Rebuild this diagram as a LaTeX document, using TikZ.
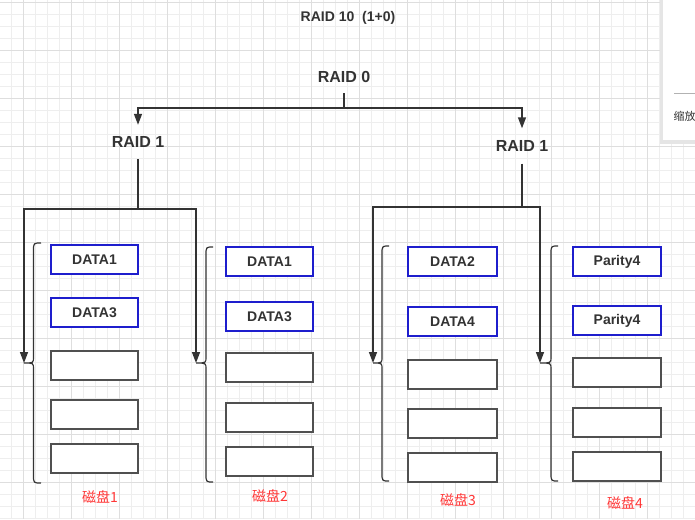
\documentclass[tikz,border=0pt]{standalone}
\usepackage{fontspec}
\setmainfont{Liberation Sans}
\newfontfamily\cjkfont{Noto Sans CJK SC}
\usetikzlibrary{arrows.meta}
\definecolor{ink}{RGB}{51,51,51}
\definecolor{boxblue}{RGB}{30,30,205}
\definecolor{boxgray}{RGB}{80,80,80}
\definecolor{diskred}{RGB}{255,55,55}
\definecolor{gridminor}{RGB}{238,238,238}
\definecolor{gridmajor}{RGB}{222,222,222}
\tikzset{
  lbl/.style={font=\fontsize{16}{18}\selectfont\bfseries, text=ink, inner sep=0pt},
  datab/.style={draw=boxblue, line width=1.5pt, fill=white, minimum width=87, minimum height=29, inner sep=0pt,
                font=\fontsize{14}{16}\selectfont\bfseries, text=ink},
  emptyb/.style={draw=boxgray, line width=1.5pt, fill=white, minimum width=87, minimum height=29, inner sep=0pt},
  disk/.style={font=\cjkfont\fontsize{14}{16}\selectfont, text=diskred, inner sep=0pt},
  conn/.style={draw=ink, line width=1.4pt},
  arr/.style={conn, -{Triangle[length=11pt,width=8pt]}},
  brace/.style={draw=ink, line width=1.2pt}
}
\begin{document}
\begin{tikzpicture}[x=1pt,y=-1pt]
\useasboundingbox (0,0) rectangle (695,519);
\fill[white] (0,0) rectangle (695,519);
% grid
\foreach \i in {0,...,57} \draw[gridminor, line width=0.8pt] (11.5+12*\i,0) -- (11.5+12*\i,519);
\foreach \i in {0,...,43} \draw[gridminor, line width=0.8pt] (0,2+12*\i) -- (695,2+12*\i);
\foreach \i in {0,...,14} \draw[gridmajor, line width=0.8pt] (23.5+48*\i,0) -- (23.5+48*\i,519);
\foreach \i in {0,...,10} \draw[gridmajor, line width=0.8pt] (0,2+48*\i) -- (695,2+48*\i);

% side panel
\fill[black!22] (660.5,-2) rectangle (700,142.5);
\fill[black!10] (659.5,-2) rectangle (700,143.5);
\fill[white] (663,-2) rectangle (700,140);
\draw[black!30, line width=0.8pt] (674,93) -- (700,93);
\node[anchor=west, inner sep=0pt, font=\cjkfont\fontsize{11}{13}\selectfont, text=ink] (zoomlbl) at (673.5,116) {缩放};

% title and RAID labels
\node[font=\fontsize{14}{16}\selectfont\bfseries, text=ink, inner sep=0pt] (title) at (348,17.5) {RAID 10\ \ (1+0)};
\node[lbl, minimum height=32] (r0) at (344,77) {RAID 0};
\node[lbl, minimum height=34] (r1l) at (138,142) {RAID 1};
\node[lbl, minimum height=35] (r1r) at (522,146) {RAID 1};

\coordinate (j0) at (344,108);
\draw[conn] (r0.south) -- (j0);
\draw[arr] (j0) -| (r1l.north);
\draw[arr] (j0) -| (r1r.north);

% braces
\newcommand{\mybrace}[6]{% spine, end, top, bottom, cusp x, name
  \coordinate (#6) at (#5,363);
  \draw[brace] (#2,#3) .. controls (#1,#3) .. (#1,#3+8) -- (#1,357) .. controls (#1,363) .. (#6)
     .. controls (#1,363) .. (#1,369) -- (#1,#4-8) .. controls (#1,#4) .. (#2,#4);
}
\mybrace{33.5}{41}{243}{483}{24}{c1}
\mybrace{206}{213}{247}{482}{196}{c2}
\mybrace{382}{389}{246}{481}{373}{c3}
\mybrace{551}{558}{246}{481}{540}{c4}

% connectors to disks
\coordinate (jl) at (138,209);
\coordinate (jr) at (522,207);
\draw[conn] (r1l.south) -- (jl);
\draw[arr] (jl) -| (c1);
\draw[arr] (jl) -| (c2);
\draw[conn] (r1r.south) -- (jr);
\draw[arr] (jr) -| (c3);
\draw[arr] (jr) -| (c4);

% disk 1
\node[datab] (a1) at (94.5,259.5) {DATA1};
\node[datab] (a2) at (94.5,312.5) {DATA3};
\node[emptyb] (a3) at (94.5,365.5) {};
\node[emptyb] (a4) at (94.5,414.5) {};
\node[emptyb] (a5) at (94.5,458.5) {};
\node[disk] (k1) at (100,497) {磁盘1};
% disk 2
\node[datab] (b1) at (269.5,261.5) {DATA1};
\node[datab] (b2) at (269.5,316.5) {DATA3};
\node[emptyb] (b3) at (269.5,367.5) {};
\node[emptyb] (b4) at (269.5,417.5) {};
\node[emptyb] (b5) at (269.5,461.5) {};
\node[disk] (k2) at (270,496) {磁盘2};
% disk 3
\node[datab, minimum width=89] (e1) at (452.5,261.5) {DATA2};
\node[datab, minimum width=89] (e2) at (452.5,321.5) {DATA4};
\node[emptyb, minimum width=89] (e3) at (452.5,374.5) {};
\node[emptyb, minimum width=89] (e4) at (452.5,423.5) {};
\node[emptyb, minimum width=89] (e5) at (452.5,467.5) {};
\node[disk] (k3) at (458,500) {磁盘3};
% disk 4
\node[datab, minimum width=88] (f1) at (617,261.5) {Parity4};
\node[datab, minimum width=88] (f2) at (617,320.5) {Parity4};
\node[emptyb, minimum width=88] (f3) at (617,372.5) {};
\node[emptyb, minimum width=88] (f4) at (617,422.5) {};
\node[emptyb, minimum width=88] (f5) at (617,466.5) {};
\node[disk] (k4) at (625,503) {磁盘4};
\end{tikzpicture}
\end{document}
